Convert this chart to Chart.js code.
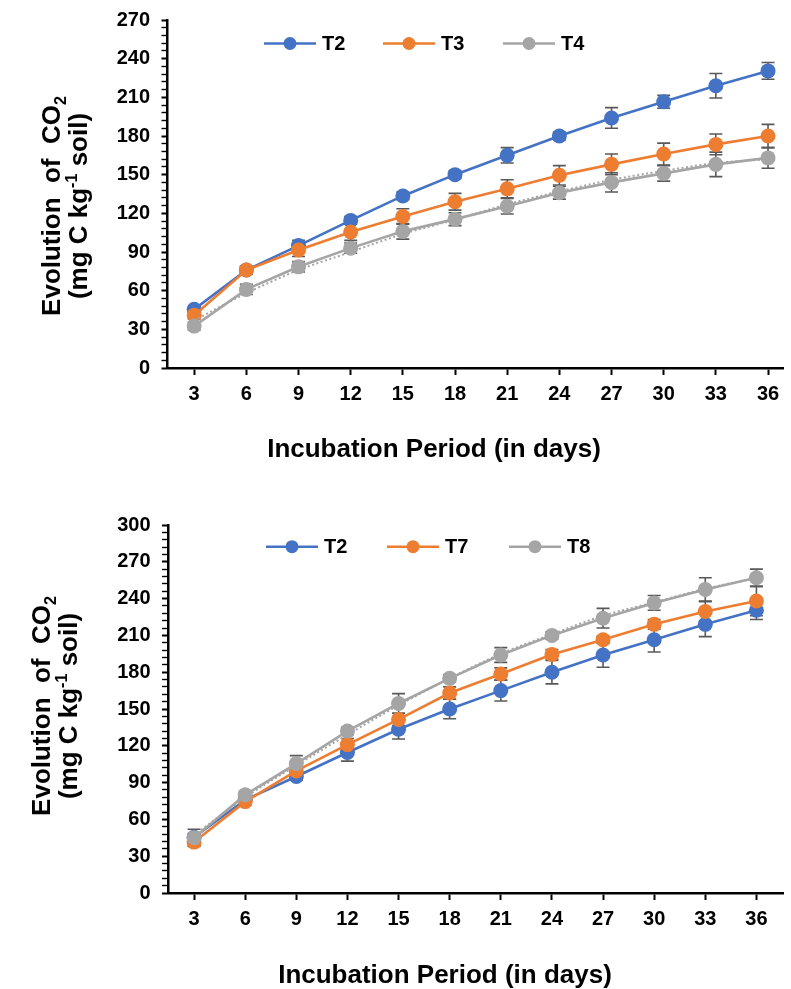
<!DOCTYPE html>
<html>
<head>
<meta charset="utf-8">
<script src="https://cdn.jsdelivr.net/npm/chart.js@4.4.1/dist/chart.umd.min.js"></script>
<style>
  html, body { margin: 0; padding: 0; background: #fff; overflow: hidden; }
  .wrap { position: absolute; left: 0; width: 791px; }
  #top { top: 0; height: 495px; }
  #bottom { top: 495px; height: 494px; }
</style>
</head>
<body>
<div class="wrap" id="top"><canvas id="chartTop"></canvas></div>
<div class="wrap" id="bottom"><canvas id="chartBottom"></canvas></div>
<script>
// incubation days (categories)
const days = [3, 6, 9, 12, 15, 18, 21, 24, 27, 30, 33, 36];

// CO2 evolution, mg C per kg soil
const t2 = [45.5, 76, 95, 114.5, 133.5, 150, 165, 180, 194, 206.5, 219, 230.5];
const t3 = [41, 76, 91.5, 105.5, 117.5, 129, 139, 149.5, 158, 166, 173.5, 180];
const t4 = [32.5, 61, 78.5, 93, 106, 115.5, 125.5, 136, 144, 151, 158, 163];
const t4Trend = [37, 58, 76, 90, 104, 115, 127, 137, 146, 153, 159, 162];
const t7 = [41.5, 74.5, 99.5, 121, 141.5, 163, 178.5, 194.5, 206.5, 219, 229.5, 238];
const t8 = [45, 80, 105.5, 132, 154.5, 175, 194, 210, 224, 236.5, 247.5, 257];
const t8Trend = [47, 78, 104, 129, 153, 175, 195, 211, 226, 237, 248, 257];

// error bar half-lengths
const t2ErrTop = [2, 3, 4, 3, 3, 3, 6, 3, 8, 5, 9.5, 6.5];
const t3Err = [3, 3, 5, 6.5, 6, 6.5, 7, 7.5, 8, 8.5, 8, 9];
const t4Err = [3, 4, 4, 4, 6, 5, 6, 5, 7.5, 6, 9.5, 8];
const t2ErrBottom = [3, 3, 3, 7, 8, 8, 8.5, 9.5, 10, 10, 10, 7.5];
const t7Err = [3, 3, 4, 5, 5, 5, 5, 4, 3, 4, 8, 12];
const t8Err = [7, 3, 6.5, 3, 8, 3, 6, 3, 8, 6, 9.5, 7];

// y tick labels
const yTicksTop = [0, 30, 60, 90, 120, 150, 180, 210, 240, 270];
const yTicksBottom = [0, 30, 60, 90, 120, 150, 180, 210, 240, 270, 300];

const BLUE = '#4472C4', ORANGE = '#ED7D31', GRAY = '#A5A5A5';
const FONT = '"Liberation Sans", Arial, Helvetica, sans-serif';

const pts = arr => arr.map((v, i) => ({ x: days[i], y: v }));

function series(label, values, color, errors, order) {
    return {
        label, data: pts(values), errors,
        borderColor: color, backgroundColor: color,
        borderWidth: 2.6, pointRadius: 7.5, pointHoverRadius: 7.5,
        pointBorderWidth: 0, pointBackgroundColor: color,
        tension: 0, order
    };
}

function trend(values, order) {
    return {
        label: 'trend', data: pts(values),
        borderColor: GRAY, borderWidth: 2, borderDash: [2, 2.5],
        pointRadius: 0, tension: 0.3, order
    };
}

const errorBars = {
    id: 'errorBars',
    beforeDatasetsDraw(chart) {
        const ctx = chart.ctx;
        const ys = chart.scales.y;
        ctx.save();
        ctx.strokeStyle = '#595959';
        ctx.lineWidth = 1.6;
        chart.data.datasets.forEach((ds, i) => {
            if (!ds.errors) return;
            chart.getDatasetMeta(i).data.forEach((pt, j) => {
                const v = ds.data[j].y, e = ds.errors[j];
                const y1 = ys.getPixelForValue(v + e), y2 = ys.getPixelForValue(v - e);
                ctx.beginPath();
                ctx.moveTo(pt.x, y1); ctx.lineTo(pt.x, y2);
                ctx.moveTo(pt.x - 6.5, y1); ctx.lineTo(pt.x + 6.5, y1);
                ctx.moveTo(pt.x - 6.5, y2); ctx.lineTo(pt.x + 6.5, y2);
                ctx.stroke();
            });
        });
        ctx.restore();
    }
};

// rich text: segments with optional sub/sup
function drawRich(ctx, segs, size, x, y) {
    const widths = segs.map(s => {
        ctx.font = `bold ${s.sub || s.sup ? size * 0.62 : size}px ${FONT}`;
        return ctx.measureText(s.t).width;
    });
    let cx = x - widths.reduce((a, b) => a + b, 0) / 2;
    segs.forEach((s, k) => {
        ctx.font = `bold ${s.sub || s.sup ? size * 0.62 : size}px ${FONT}`;
        const dy = s.sub ? size * 0.22 : s.sup ? -size * 0.38 : 0;
        ctx.fillText(s.t, cx, y + dy);
        cx += widths[k];
    });
}

const decorations = {
    id: 'decorations',
    afterDraw(chart, args, o) {
        const ctx = chart.ctx;
        ctx.save();
        ctx.fillStyle = '#000';
        ctx.textBaseline = 'alphabetic';
        ctx.textAlign = 'left';
        // y title, two rotated lines
        const l1 = [{ t: 'Evolution  of  CO' }, { t: '2', sub: true }];
        const l2 = [{ t: '(mg C kg' }, { t: '-1', sup: true }, { t: ' soil)' }];
        [[l1, o.yLine1], [l2, o.yLine2]].forEach(([segs, bx]) => {
            ctx.save();
            ctx.translate(bx, o.yTitleCenter);
            ctx.rotate(-Math.PI / 2);
            drawRich(ctx, segs, 26, 0, 0);
            ctx.restore();
        });
        // x title
        ctx.font = `bold 26px ${FONT}`;
        ctx.textAlign = 'center';
        ctx.fillText('Incubation Period (in days)', o.xTitleX, o.xTitleY);
        // legend
        ctx.textAlign = 'left';
        ctx.textBaseline = 'middle';
        ctx.font = `bold 20px ${FONT}`;
        o.legend.forEach((it, k) => {
            const ds = chart.data.datasets[k];
            ctx.strokeStyle = ds.borderColor;
            ctx.fillStyle = ds.borderColor;
            ctx.lineWidth = 2.5;
            ctx.beginPath();
            ctx.moveTo(it.x0, o.legendY); ctx.lineTo(it.x0 + 52, o.legendY);
            ctx.stroke();
            ctx.beginPath();
            ctx.arc(it.x0 + 26, o.legendY, 6.5, 0, Math.PI * 2);
            ctx.fill();
            ctx.fillStyle = '#000';
            ctx.fillText(ds.label, it.x0 + 58, o.legendY + 1);
        });
        ctx.restore();
    }
};

function makeChart(id, datasets, yMax, yTicks, xMin, xMax, area, deco) {
    return new Chart(document.getElementById(id), {
        type: 'line',
        data: { datasets },
        plugins: [errorBars, decorations],
        options: {
            responsive: true,
            maintainAspectRatio: false,
            animation: false,
            devicePixelRatio: 1,
            layout: { padding: { top: area.top, left: 0, right: 0, bottom: 0 } },
            plugins: {
                legend: { display: false },
                tooltip: { enabled: false },
                decorations: deco
            },
            scales: {
                x: {
                    type: 'linear', min: xMin, max: xMax,
                    afterBuildTicks: s => { s.ticks = days.map(v => ({ value: v })); },
                    afterFit: s => { s.height = area.xHeight; s.paddingLeft = 0; s.paddingRight = 0; },
                    border: { color: '#000', width: 2.5 },
                    grid: { drawOnChartArea: false, color: '#000', tickLength: 7, tickWidth: 2 },
                    ticks: {
                        color: '#000', padding: 7, maxRotation: 0, autoSkip: false,
                        font: { family: FONT, size: 20, weight: 'bold' }
                    }
                },
                y: {
                    min: 0, max: yMax,
                    afterBuildTicks: s => {
                        const t = [];
                        for (let v = 0; v <= yMax; v += 6) t.push({ value: v });
                        s.ticks = t;
                    },
                    afterFit: s => { s.width = area.left; s.paddingTop = 0; s.paddingBottom = 0; },
                    border: { color: '#000', width: 2.5 },
                    grid: {
                        drawOnChartArea: false, color: '#000', tickLength: 6,
                        tickWidth: c => yTicks.includes(c.tick.value) ? 2 : 1.4
                    },
                    ticks: {
                        color: '#000', padding: 11.5, autoSkip: false,
                        callback: v => yTicks.includes(v) ? v : '',
                        font: { family: FONT, size: 20, weight: 'bold' }
                    }
                }
            }
        }
    });
}

makeChart('chartTop', [
    series('T2', t2, BLUE, t2ErrTop, 3),
    series('T3', t3, ORANGE, t3Err, 2),
    series('T4', t4, GRAY, t4Err, 1),
    trend(t4Trend, 0)
], 270, yTicksTop, 1.466, 36.89, { top: 20, left: 167.5, xHeight: 127 }, {
    yLine1: 60, yLine2: 87, yTitleCenter: 206,
    xTitleX: 434, xTitleY: 457,
    legendY: 43.5,
    legend: [{ x0: 264 }, { x0: 383 }, { x0: 503 }]
});

makeChart('chartBottom', [
    series('T2', t2, BLUE, t2ErrBottom, 3),
    series('T7', t7, ORANGE, t7Err, 2),
    series('T8', t8, GRAY, t8Err, 1),
    trend(t8Trend, 0)
], 300, yTicksBottom, 1.47, 37.59, { top: 30, left: 168, xHeight: 96 }, {
    yLine1: 50, yLine2: 77, yTitleCenter: 211,
    xTitleX: 445, xTitleY: 488,
    legendY: 51.7,
    legend: [{ x0: 266 }, { x0: 387 }, { x0: 509 }]
});
</script>
</body>
</html>
